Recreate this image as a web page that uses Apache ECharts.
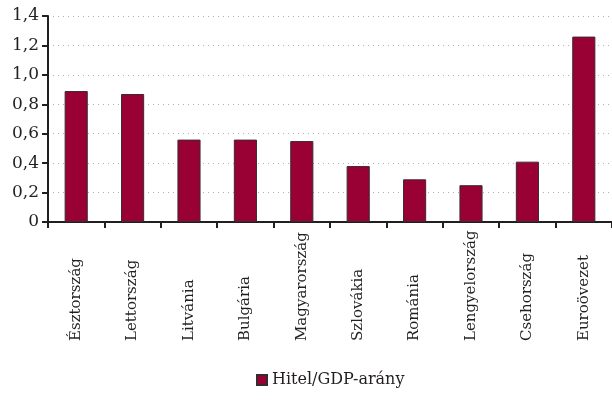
<!DOCTYPE html>
<html><head><meta charset="utf-8">
<script src="https://cdn.jsdelivr.net/npm/echarts@6/dist/echarts.min.js"></script>
<style>html,body{margin:0;padding:0;background:#fff}#c{width:612px;height:405px}</style>
</head><body><div id="c"></div>
<script>
const categories = ['Észtország','Lettország','Litvánia','Bulgária','Magyarország','Szlovákia','Románia','Lengyelország','Csehország','Euroövezet'];
const values = [0.89, 0.87, 0.56, 0.56, 0.55, 0.38, 0.29, 0.25, 0.41, 1.26];
const seriesName = 'Hitel/GDP-arány';
const yTicks = {min: 0, max: 1.4, interval: 0.2};

const font = 'DejaVu Serif';
const chart = echarts.init(document.getElementById('c'), null, {renderer: 'canvas'});
chart.setOption({
  animation: false,
  textStyle: {fontFamily: font},
  grid: {left: 48, right: 0, top: 16, bottom: 183, containLabel: false},
  legend: {
    bottom: 12, left: 251,
    itemWidth: 10, itemHeight: 10, itemGap: 5,
    icon: 'rect',
    textStyle: {fontFamily: font, fontSize: 16, color: '#231f20'},
    data: [seriesName]
  },
  xAxis: {
    type: 'category', data: categories,
    axisLine: {lineStyle: {color: '#231f20', width: 2}},
    axisTick: {show: true, length: 6, lineStyle: {color: '#231f20', width: 2}},
    axisLabel: {rotate: 90, align: 'left', verticalAlign: 'middle', margin: 119, fontSize: 15, color: '#231f20', fontFamily: font, interval: 0}
  },
  yAxis: {
    type: 'value', min: yTicks.min, max: yTicks.max, interval: yTicks.interval,
    axisLine: {show: true, lineStyle: {color: '#231f20', width: 2}},
    axisTick: {show: true, length: 6, inside: false, lineStyle: {color: '#231f20', width: 2}},
    axisLabel: {fontSize: 17, color: '#231f20', fontFamily: font, margin: 9,
      formatter: v => v === 0 ? '0' : (Math.round(v*10)/10).toFixed(1).replace('.', ',')},
    splitLine: {show: true, lineStyle: {color: '#b0b0b0', type: [1, 4], width: 1}}
  },
  series: [{
    name: seriesName, type: 'bar', data: values,
    barWidth: '41%',
    itemStyle: {color: '#990033', borderColor: '#3a2a2e', borderWidth: 1}
  }]
});
</script></body></html>
